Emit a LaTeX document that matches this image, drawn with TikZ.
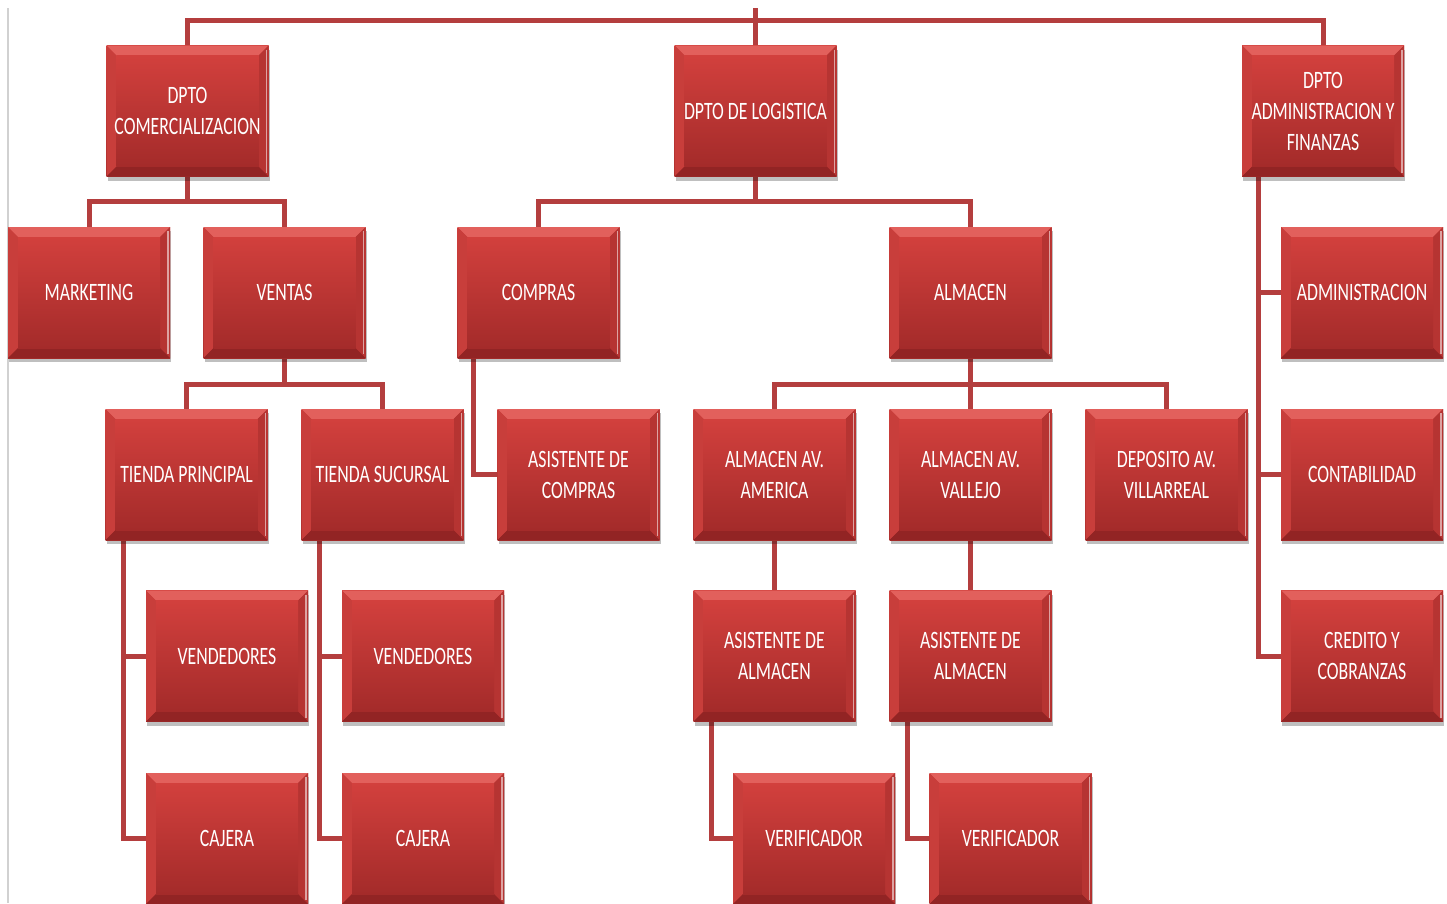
\documentclass[tikz,border=0pt]{standalone}
\usepackage{fontspec}
\newfontfamily\boxfont[FakeStretch=0.71]{Carlito}
\usetikzlibrary{shadows,backgrounds}
\definecolor{boxtop}{RGB}{210,64,61}
\definecolor{boxbot}{RGB}{164,43,42}
\definecolor{bevtop}{RGB}{226,96,92}
\definecolor{bevleft}{RGB}{200,62,59}
\definecolor{bevright}{RGB}{182,52,50}
\definecolor{bevbot}{RGB}{146,36,36}
\definecolor{wirecol}{RGB}{180,62,62}
\tikzset{
  orgbox/.style={
    rectangle, minimum width=162pt, minimum height=131pt, inner sep=0pt,
    top color=boxtop, bottom color=boxbot, draw=none,
    text=white, align=center,
    font=\boxfont\fontsize{25}{31}\selectfont,
    drop shadow={shadow xshift=1pt, shadow yshift=-4pt, opacity=.25, fill=black},
    path picture={
      % bevelled rim of the tile
      \fill[bevtop] (path picture bounding box.north west) -- (path picture bounding box.north east)
        -- ([shift={(-10pt,-10pt)}]path picture bounding box.north east)
        -- ([shift={(10pt,-10pt)}]path picture bounding box.north west) -- cycle;
      \fill[bevleft] (path picture bounding box.north west)
        -- ([shift={(10pt,-10pt)}]path picture bounding box.north west)
        -- ([shift={(10pt,10pt)}]path picture bounding box.south west)
        -- (path picture bounding box.south west) -- cycle;
      \fill[bevright] (path picture bounding box.north east)
        -- ([shift={(-10pt,-10pt)}]path picture bounding box.north east)
        -- ([shift={(-10pt,10pt)}]path picture bounding box.south east)
        -- (path picture bounding box.south east) -- cycle;
      \fill[bevbot] (path picture bounding box.south west)
        -- ([shift={(10pt,10pt)}]path picture bounding box.south west)
        -- ([shift={(-10pt,10pt)}]path picture bounding box.south east)
        -- (path picture bounding box.south east) -- cycle;
      \shade[top color=boxtop, bottom color=boxbot]
        ([shift={(10pt,-10pt)}]path picture bounding box.north west)
        rectangle ([shift={(-10pt,10pt)}]path picture bounding box.south east);
      \draw[white, opacity=.55, line width=1.5pt]
        ([shift={(-2pt,-4pt)}]path picture bounding box.north east)
        -- ([shift={(-2pt,4pt)}]path picture bounding box.south east);
    }},
  wire/.style={draw=wirecol, line width=5pt, line join=miter}
}
\begin{document}
\begin{tikzpicture}[x=1pt, y=-1pt]
\useasboundingbox (0,0) rectangle (1447,903);
\clip (0,0) rectangle (1447,903);

% level 1
\node[orgbox] (dcom) at (187.5,111) {DPTO\\COMERCIALIZACION};
\node[orgbox] (dlog) at (755.5,111) {DPTO DE LOGISTICA};
\node[orgbox] (dadm) at (1323,111) {DPTO\\ADMINISTRACION Y\\FINANZAS};

% level 2
\node[orgbox] (mkt)  at (89,292.5)    {MARKETING};
\node[orgbox] (vta)  at (284.5,292.5) {VENTAS};
\node[orgbox] (comp) at (538.5,292.5) {COMPRAS};
\node[orgbox] (alm)  at (970.5,292.5) {ALMACEN};
\node[orgbox] (admi) at (1362,292.5)  {ADMINISTRACION};

% level 3
\node[orgbox] (tp)   at (186.5,474.5)  {TIENDA PRINCIPAL};
\node[orgbox] (ts)   at (382.5,474.5)  {TIENDA SUCURSAL};
\node[orgbox] (asc)  at (578.5,474.5)  {ASISTENTE DE\\COMPRAS};
\node[orgbox] (ava)  at (774.5,474.5)  {ALMACEN AV.\\AMERICA};
\node[orgbox] (avv)  at (970.5,474.5)  {ALMACEN AV.\\VALLEJO};
\node[orgbox] (dep)  at (1166.5,474.5) {DEPOSITO AV.\\VILLARREAL};
\node[orgbox] (cont) at (1362,474.5)   {CONTABILIDAD};

% level 4
\node[orgbox] (ven1) at (227,656)   {VENDEDORES};
\node[orgbox] (ven2) at (423,656)   {VENDEDORES};
\node[orgbox] (asa1) at (774.5,656) {ASISTENTE DE\\ALMACEN};
\node[orgbox] (asa2) at (970.5,656) {ASISTENTE DE\\ALMACEN};
\node[orgbox] (cred) at (1362,656)  {CREDITO Y\\COBRANZAS};

% level 5
\node[orgbox] (caj1) at (227,838.5)    {CAJERA};
\node[orgbox] (caj2) at (423,838.5)    {CAJERA};
\node[orgbox] (ver1) at (814,838.5)    {VERIFICADOR};
\node[orgbox] (ver2) at (1010.5,838.5) {VERIFICADOR};

\coordinate (root) at (755.5,8);

% connectors, drawn beneath the tiles
\begin{scope}[on background layer]
\fill[white] (0,0) rectangle (1447,903);
\draw[black!18, line width=1.5pt] (8,8) -- (8,903);

\draw[wire] (root) -- (dlog.north);
\draw[wire] (dcom.north) -- ++(0,-25) -| (dadm.north);

\draw[wire] (dcom.south) -- ++(0,25) -| (mkt.north);
\draw[wire] (dcom.south) ++(0,25) -| (vta.north);

\draw[wire] (vta.south) -- ++(0,26) -| (tp.north);
\draw[wire] (vta.south) ++(0,26) -| (ts.north);

\draw[wire] (dlog.south) -- ++(0,25) -| (comp.north);
\draw[wire] (dlog.south) ++(0,25) -| (alm.north);

\draw[wire] ([xshift=16pt]comp.south west) |- (asc.west);

\draw[wire] (alm.south) -- ++(0,26) -| (ava.north);
\draw[wire] (alm.south) ++(0,26) -| (avv.north);
\draw[wire] (alm.south) ++(0,26) -| (dep.north);

\draw[wire] (ava.south) -- (asa1.north);
\draw[wire] (avv.south) -- (asa2.north);

\draw[wire] ([xshift=18pt]asa1.south west) |- (ver1.west);
\draw[wire] ([xshift=18pt]asa2.south west) |- (ver2.west);

\draw[wire] ([xshift=18pt]tp.south west) |- (ven1.west);
\draw[wire] ([xshift=18pt]tp.south west) |- (caj1.west);
\draw[wire] ([xshift=18pt]ts.south west) |- (ven2.west);
\draw[wire] ([xshift=18pt]ts.south west) |- (caj2.west);

\draw[wire] ([xshift=17pt]dadm.south west) |- (admi.west);
\draw[wire] ([xshift=17pt]dadm.south west) |- (cont.west);
\draw[wire] ([xshift=17pt]dadm.south west) |- (cred.west);
\end{scope}
\end{tikzpicture}
\end{document}
